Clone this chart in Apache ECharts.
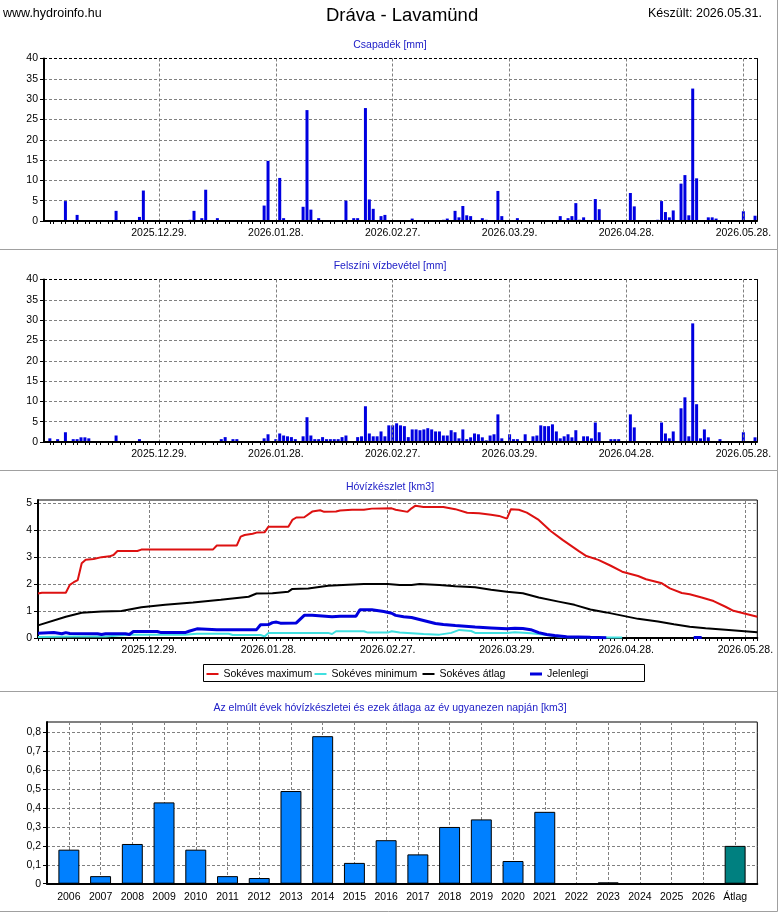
<!DOCTYPE html>
<html><head><meta charset="utf-8">
<script src="https://cdn.jsdelivr.net/npm/echarts@6/dist/echarts.min.js"></script>
<style>html,body{margin:0;padding:0;background:#fff}#c{width:780px;height:913px}</style>
</head><body><div id="c"></div>
<script>
// ---------- DATA ----------
// tick labels of the daily time axes
const dateTicks = ['2025.12.29.', '2026.01.28.', '2026.02.27.', '2026.03.29.', '2026.04.28.', '2026.05.28.'];

// Csapadék [mm]  (day 'MM.DD', value)
const precip = [
['12.05',4.9],['12.08',1.5],['12.18',2.5],['12.24',1.0],['12.25',7.5],
['01.06',0.3],['01.07',2.5],['01.09',0.7],['01.10',7.7],['01.13',0.7],
['01.25',3.8],['01.26',14.8],['01.29',10.6],['01.30',0.7],
['02.04',3.5],['02.05',27.3],['02.06',2.8],['02.08',0.7],['02.15',5.0],['02.17',0.7],['02.18',0.7],
['02.20',27.8],['02.21',5.3],['02.22',3.0],['02.24',1.2],['02.25',1.5],
['03.04',0.6],['03.12',0.3],['03.13',0.6],['03.15',2.5],['03.16',0.9],['03.17',3.7],['03.18',1.4],['03.19',1.2],
['03.22',0.7],['03.23',0.3],['03.26',7.4],['03.27',1.2],['03.31',0.7],
['04.11',1.2],['04.13',0.7],['04.14',1.2],['04.15',4.4],['04.16',0.3],['04.17',0.9],['04.20',5.4],['04.21',2.9],
['04.22',0.2],['04.29',6.9],['04.30',3.6],
['05.06',0.3],['05.07',4.9],['05.08',2.2],['05.09',0.9],['05.10',2.6],['05.12',9.2],['05.13',11.3],['05.14',1.4],
['05.15',32.6],['05.16',10.5],['05.19',0.9],['05.20',0.9],['05.21',0.6],['05.28',2.4],['05.31',1.3]
];

// Felszíni vízbevétel [mm]
const runoff = [
['12.01',0.9],['12.03',0.7],['12.05',2.4],['12.07',0.7],['12.08',0.7],['12.09',1.15],['12.10',1.15],['12.11',0.9],
['12.18',1.6],['12.24',0.7],
['01.14',0.7],['01.15',1.2],['01.17',0.7],['01.18',0.7],['01.25',0.9],['01.26',1.9],['01.28',0.7],['01.29',2.1],
['01.30',1.6],['01.31',1.4],
['02.01',1.2],['02.02',0.7],['02.04',1.4],['02.05',6.1],['02.06',1.6],['02.07',0.7],['02.08',0.7],['02.09',1.2],
['02.10',0.7],['02.11',0.7],['02.12',0.7],['02.13',0.7],['02.14',1.2],['02.15',1.6],['02.18',1.2],['02.19',1.4],
['02.20',8.8],['02.21',2.1],['02.22',1.4],['02.23',1.4],['02.24',2.6],['02.25',1.4],['02.26',4.1],['02.27',4.1],['02.28',4.6],
['03.01',4.1],['03.02',3.9],['03.03',1.2],['03.04',3.1],['03.05',3.1],['03.06',2.9],['03.07',3.1],['03.08',3.4],
['03.09',3.1],['03.10',2.6],['03.11',2.6],['03.12',1.6],['03.13',1.6],['03.14',2.9],['03.15',2.4],['03.16',0.9],
['03.17',3.1],['03.18',0.7],['03.19',1.15],['03.20',2.1],['03.21',1.9],['03.22',1.15],['03.23',0.4],['03.24',1.6],
['03.25',1.9],['03.26',6.8],['03.27',0.9],['03.29',1.9],['03.30',0.7],['03.31',0.7],
['04.02',1.9],['04.04',1.4],['04.05',1.6],['04.06',4.1],['04.07',3.9],['04.08',3.9],['04.09',4.35],['04.10',2.6],
['04.11',0.9],['04.12',1.4],['04.13',1.9],['04.14',1.15],['04.15',2.9],['04.17',1.4],['04.18',1.4],['04.19',0.9],
['04.20',4.8],['04.21',2.4],['04.24',0.7],['04.25',0.7],['04.26',0.7],['04.29',6.8],['04.30',3.6],
['05.07',4.8],['05.08',2.1],['05.09',0.9],['05.10',2.6],['05.12',8.3],['05.13',11.0],['05.14',1.4],['05.15',29.2],
['05.16',9.3],['05.17',0.9],['05.18',3.1],['05.19',1.15],['05.22',0.7],['05.28',2.4],['05.31',1.15]
];

// Hóvízkészlet [km3]
const snowMax = [
['12.01',1.65],['12.02',1.68],['12.08',1.68],['12.09',1.97],['12.10',2.07],['12.11',2.15],['12.12',2.77],['12.13',2.9],
['12.15',2.93],['12.17',3.0],['12.19',3.03],['12.20',3.08],['12.21',3.23],['12.26',3.23],['12.27',3.28],
['01.14',3.28],['01.15',3.43],['01.20',3.43],['01.21',3.76],['01.22',3.82],['01.24',3.87],['01.25',3.91],['01.27',3.92],
['01.28',4.13],['02.02',4.13],['02.03',4.38],['02.04',4.47],['02.06',4.48],['02.08',4.69],['02.10',4.74],['02.11',4.68],
['02.14',4.69],['02.15',4.73],['02.18',4.76],['02.21',4.76],['02.23',4.80],['02.28',4.81],['03.01',4.76],['03.04',4.68],
['03.05',4.81],['03.06',4.91],['03.08',4.86],['03.13',4.86],['03.16',4.78],['03.19',4.65],['03.22',4.63],['03.25',4.57],
['03.27',4.53],['03.29',4.43],['03.30',4.78],['04.01',4.76],['04.03',4.65],['04.06',4.38],['04.09',3.97],['04.12',3.64],
['04.16',3.23],['04.18',3.04],['04.21',2.90],['04.24',2.69],['04.27',2.46],['05.01',2.30],['05.03',2.18],['05.07',2.03],
['05.09',1.84],['05.12',1.67],['05.14',1.62],['05.17',1.50],['05.20',1.37],['05.23',1.16],['05.25',1.01],['05.28',0.90],
['05.31',0.79]
];
const snowMin = [
['12.01',0.04],['12.10',0.06],['12.18',0.06],['12.22',0.1],['12.24',0.12],['01.07',0.125],['01.10',0.16],['01.18',0.16],
['01.19',0.11],['01.26',0.11],['01.27',0.06],['01.28',0.19],['02.12',0.19],['02.13',0.15],['02.14',0.25],['02.21',0.25],
['02.22',0.2],['02.27',0.2],['02.28',0.25],['03.02',0.2],['03.08',0.15],['03.12',0.125],['03.15',0.19],['03.17',0.3],
['03.20',0.26],['03.21',0.19],['03.29',0.19],['03.31',0.21],['04.04',0.175],['04.07',0.125],['04.11',0.06],['04.13',0.03],
['04.19',0.02],['04.27',0.02]
];
const snowAvg = [
['12.01',0.47],['12.08',0.79],['12.12',0.94],['12.17',0.98],['12.22',1.0],['12.27',1.14],['01.02',1.23],['01.09',1.32],
['01.16',1.42],['01.23',1.53],['01.25',1.65],['01.29',1.66],['02.02',1.72],['02.03',1.82],['02.07',1.84],['02.12',1.94],
['02.17',1.98],['02.21',2.0],['02.27',2.0],['03.02',1.97],['03.05',1.97],['03.07',2.0],['03.12',1.97],['03.16',1.92],
['03.21',1.88],['03.25',1.79],['03.29',1.72],['04.02',1.66],['04.06',1.50],['04.11',1.35],['04.15',1.23],['04.19',1.06],
['04.23',0.95],['04.27',0.83],['05.01',0.71],['05.06',0.61],['05.10',0.51],['05.14',0.42],['05.18',0.36],['05.23',0.31],
['05.27',0.26],['05.31',0.21]
];
// null = no visible line (at zero, hidden by the axis)
const snowNow = [
['12.01',0.18],['12.05',0.2],['12.07',0.16],['12.08',0.2],['12.09',0.17],['12.16',0.16],['12.17',0.13],['12.18',0.16],
['12.23',0.16],['12.24',0.13],['12.25',0.24],['12.31',0.24],['01.01',0.2],['01.07',0.2],['01.08',0.25],['01.10',0.34],
['01.15',0.31],['01.25',0.31],['01.26',0.49],['01.28',0.5],['01.29',0.57],['01.30',0.59],['01.31',0.55],['02.04',0.56],
['02.05',0.7],['02.06',0.84],['02.08',0.84],['02.13',0.79],['02.15',0.81],['02.19',0.81],['02.20',1.05],['02.23',1.05],
['02.26',0.98],['02.28',0.92],['03.01',0.84],['03.03',0.79],['03.05',0.76],['03.08',0.65],['03.11',0.54],['03.13',0.5],
['03.16',0.46],['03.21',0.41],['03.25',0.375],['03.29',0.34],['03.31',0.36],['04.02',0.35],['04.04',0.31],['04.06',0.2],
['04.08',0.13],['04.10',0.09],['04.13',0.05],['04.19',0.025],['04.23',0.01],['04.24',null],['05.14',null],['05.15',0.02],
['05.17',0.02],['05.18',null]
];

// Az elmúlt évek hóvízkészletei és ezek átlaga az év ugyanezen napján [km3]
const years = ['2006','2007','2008','2009','2010','2011','2012','2013','2014','2015','2016','2017','2018','2019','2020','2021','2022','2023','2024','2025','2026','Átlag'];
const yearVals = [0.18,0.04,0.21,0.43,0.18,0.04,0.03,0.49,0.78,0.11,0.23,0.155,0.30,0.34,0.12,0.38,0,0.007,0,0,0,0.2];

// ---------- helpers ----------
function pad(n){ return (n < 10 ? '0' : '') + n; }
function buildDays(y, m, d, n){
  const out = [];
  for (let i = 0; i < n; i++) {
    const t = new Date(Date.UTC(y, m - 1, d + i));
    out.push(t.getUTCFullYear() + '.' + pad(t.getUTCMonth() + 1) + '.' + pad(t.getUTCDate()) + '.');
  }
  return out;
}
const days = buildDays(2025, 11, 30, 183);   // 2025.11.30. .. 2026.05.31.
const daysHo = days.slice(1);                 // 2025.12.01. .. 2026.05.31.
function toPairs(list, cats){
  return list.map(function(p){ return [cats.findIndex(function(c){ return c.slice(5, 10) === p[0]; }), p[1]]; });
}
const F = "'Liberation Sans', Arial, sans-serif";
const GRID_GRAY = '#808080';
const DASH = [3, 2];
function isTickDay(i, v){ return dateTicks.indexOf(v) >= 0; }
function minorTick(cats){
  const k0 = cats.indexOf(dateTicks[0]);
  return function(i){ const r = (((i - k0) % 3) + 3) % 3; return r !== 1; };
}
const splitColors9 = [GRID_GRAY, GRID_GRAY, GRID_GRAY, GRID_GRAY, GRID_GRAY, GRID_GRAY, GRID_GRAY, GRID_GRAY, '#000'];

function frameGrid(top, h){
  return {left: -3, top: top, width: 780.5, height: h, show: true, borderColor: '#a0a0a0', borderWidth: 1,
          backgroundColor: 'transparent', containLabel: false, outerBoundsMode: 'none'};
}
function plotGrid(o){ return Object.assign({containLabel: false, outerBoundsMode: 'none'}, o); }

function dayXAxis(gridIndex, cats, boundaryGap){
  return {
    gridIndex: gridIndex, type: 'category', data: cats, boundaryGap: boundaryGap, z: 3,
    axisLine: {show: true, onZero: false, lineStyle: {color: '#000', width: 2}},
    axisTick: {show: true, alignWithLabel: true, interval: minorTick(cats), length: 3, lineStyle: {color: '#000', width: 1}},
    axisLabel: {show: true, interval: isTickDay, margin: 7, fontSize: 10.5, color: '#000', fontFamily: F},
    splitLine: {show: true, interval: isTickDay, alignWithLabel: true, lineStyle: {color: GRID_GRAY, type: DASH, width: 1}}
  };
}
function mmYAxis(gridIndex){
  return {
    gridIndex: gridIndex, type: 'value', min: 0, max: 40, interval: 5,
    axisLine: {show: true, lineStyle: {color: '#000', width: 2}},
    axisTick: {show: true, length: 4, lineStyle: {color: '#000'}},
    axisLabel: {margin: 6, fontSize: 10.5, color: '#000', fontFamily: F},
    splitLine: {show: true, lineStyle: {color: splitColors9, type: DASH, width: 1}}
  };
}
function rightYAxis(gridIndex){
  return {
    gridIndex: gridIndex, type: 'value', position: 'right', min: 0, max: 40, interval: 5,
    axisLine: {show: true, lineStyle: {color: '#000', width: 1}},
    axisTick: {show: false}, axisLabel: {show: false}, splitLine: {show: false}
  };
}
function subTitle(text, top){
  return {text: text, left: 'center', top: top, padding: 0,
          textStyle: {fontSize: 10.5, fontWeight: 'normal', color: '#2020c8', fontFamily: F}};
}
function legendItem(name, left, h){
  return {data: [name], left: left, top: 668.5, padding: 0, orient: 'horizontal', selectedMode: false,
          itemWidth: 12, itemHeight: h, icon: 'rect', itemGap: 0, backgroundColor: 'transparent', borderWidth: 0,
          textStyle: {fontSize: 10.5, color: '#000', fontFamily: F}};
}

const chart = echarts.init(document.getElementById('c'), null, {renderer: 'canvas'});
const option = {
  animation: false,
  backgroundColor: '#fff',
  textStyle: {fontFamily: F},
  title: [
    {text: 'Dráva - Lavamünd', left: 326, top: 6, padding: 0, textStyle: {fontSize: 18.5, fontWeight: 'normal', color: '#000', fontFamily: F}},
    {text: 'www.hydroinfo.hu', left: 3, top: 7, padding: 0, textStyle: {fontSize: 12.5, fontWeight: 'normal', color: '#000', fontFamily: F}},
    {text: 'Készült: 2026.05.31.', right: 18, top: 7, padding: 0, textStyle: {fontSize: 12.5, fontWeight: 'normal', color: '#000', fontFamily: F}},
    subTitle('Csapadék [mm]', 40),
    subTitle('Felszíni vízbevétel [mm]', 261),
    subTitle('Hóvízkészlet [km3]', 482),
    subTitle('Az elmúlt évek hóvízkészletei és ezek átlaga az év ugyanezen napján [km3]', 703)
  ],
  legend: [
    legendItem('Sokéves maximum', 206.5, 2),
    legendItem('Sokéves minimum', 314.5, 2),
    legendItem('Sokéves átlag', 422.5, 2),
    legendItem('Jelenlegi', 530, 3)
  ],
  grid: [
    frameGrid(-3, 252.5),       // 0
    frameGrid(249.5, 221),      // 1
    frameGrid(470.5, 221),      // 2
    frameGrid(691.5, 220),      // 3
    plotGrid({left: 44, top: 58.5, width: 713, height: 162.5}),   // 4 chart1
    plotGrid({left: 44, top: 279.5, width: 713, height: 162.5}),  // 5 chart2
    plotGrid({left: 38, top: 500, width: 719.3, height: 138, show: true, borderColor: '#000', borderWidth: 1}), // 6 chart3
    plotGrid({left: 47, top: 722, width: 710.3, height: 161.7, show: true, borderColor: '#000', borderWidth: 1}), // 7 chart4 box
    plotGrid({left: 53, top: 722, width: 698, height: 161.7}),    // 8 chart4 inner
    plotGrid({left: 203.5, top: 664.5, width: 441, height: 17, show: true, borderColor: '#000', borderWidth: 1, backgroundColor: '#fff'}) // 9 legend box
  ],
  xAxis: [
    dayXAxis(4, days, true),
    dayXAxis(5, days, true),
    dayXAxis(6, daysHo, false),
    {gridIndex: 7, type: 'value', min: 0, max: 1, z: 5,
     axisLine: {show: true, onZero: false, lineStyle: {color: '#000', width: 2}},
     axisTick: {show: false}, axisLabel: {show: false}, splitLine: {show: false}},
    {gridIndex: 8, type: 'category', data: years, boundaryGap: true,
     axisLine: {show: false}, axisTick: {show: false},
     axisLabel: {interval: 0, margin: 8, fontSize: 10.5, color: '#000', fontFamily: F},
     splitLine: {show: true, interval: 0, alignWithLabel: true, lineStyle: {color: GRID_GRAY, type: DASH, width: 1}}}
  ],
  yAxis: [
    mmYAxis(4), rightYAxis(4),
    mmYAxis(5), rightYAxis(5),
    {gridIndex: 6, type: 'value', min: 0, max: 5.12, interval: 1,
     axisLine: {show: true, lineStyle: {color: '#000', width: 2}},
     axisTick: {show: true, length: 4, lineStyle: {color: '#000'}},
     axisLabel: {margin: 6, fontSize: 10.5, color: '#000', fontFamily: F, showMaxLabel: false},
     splitLine: {show: true, lineStyle: {color: GRID_GRAY, type: DASH, width: 1}}},
    {gridIndex: 7, type: 'value', min: 0, max: 0.855, interval: 0.1,
     axisLine: {show: true, lineStyle: {color: '#000', width: 2}},
     axisTick: {show: true, length: 4, lineStyle: {color: '#000'}},
     axisLabel: {margin: 6, fontSize: 10.5, color: '#000', fontFamily: F, showMaxLabel: false,
       formatter: function(v){ return String(v).replace('.', ','); }},
     splitLine: {show: true, lineStyle: {color: GRID_GRAY, type: DASH, width: 1}}},
    {gridIndex: 8, type: 'value', min: 0, max: 0.855, show: false}
  ],
  series: [
    {type: 'bar', name: 'Csapadék', xAxisIndex: 0, yAxisIndex: 0, barWidth: 3, data: toPairs(precip, days),
     itemStyle: {color: '#0000e0'}},
    {type: 'bar', name: 'Felszíni vízbevétel', xAxisIndex: 1, yAxisIndex: 2, barWidth: 3, data: toPairs(runoff, days),
     itemStyle: {color: '#0000e0'}},
    {type: 'line', name: 'Sokéves maximum', xAxisIndex: 2, yAxisIndex: 4, data: toPairs(snowMax, daysHo), symbol: 'none',
     lineStyle: {color: '#dd1111', width: 2}, itemStyle: {color: '#dd1111'}},
    {type: 'line', name: 'Sokéves minimum', xAxisIndex: 2, yAxisIndex: 4, data: toPairs(snowMin, daysHo), symbol: 'none',
     lineStyle: {color: '#40e0e0', width: 2}, itemStyle: {color: '#40e0e0'}},
    {type: 'line', name: 'Sokéves átlag', xAxisIndex: 2, yAxisIndex: 4, data: toPairs(snowAvg, daysHo), symbol: 'none',
     lineStyle: {color: '#000000', width: 2}, itemStyle: {color: '#000000'}},
    {type: 'line', name: 'Jelenlegi', xAxisIndex: 2, yAxisIndex: 4, data: toPairs(snowNow, daysHo), symbol: 'none',
     connectNulls: false, lineStyle: {color: '#0000dd', width: 3}, itemStyle: {color: '#0000dd'}},
    {type: 'bar', name: 'Évek', xAxisIndex: 4, yAxisIndex: 6, barCategoryGap: '34%',
     data: yearVals.map(function(v, i){ return years[i] === 'Átlag' ? {value: v, itemStyle: {color: '#008080'}} : v; }),
     itemStyle: {color: '#0080ff', borderColor: '#000', borderWidth: 1}}
  ]
};
chart.setOption(option);
</script>
</body></html>
